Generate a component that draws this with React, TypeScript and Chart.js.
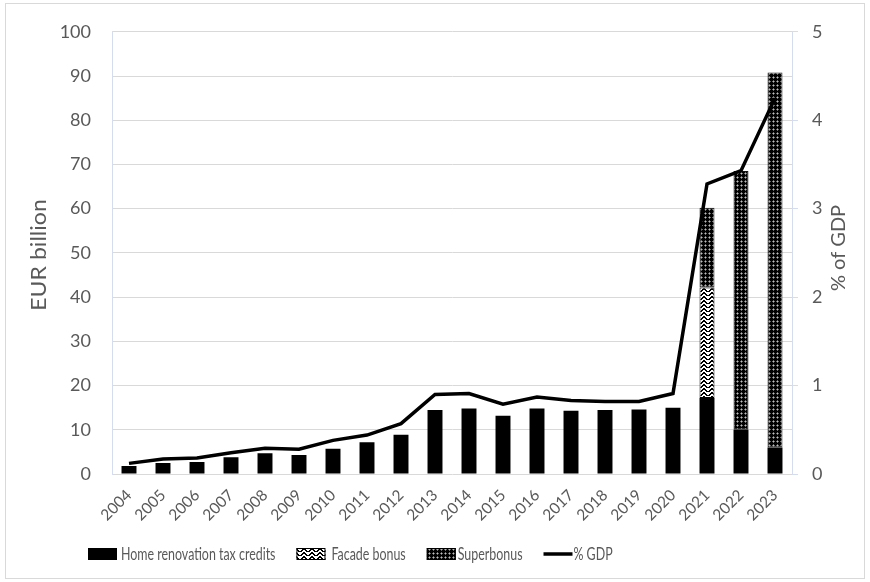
import React, { useEffect, useRef } from "react";
import { Chart, registerables } from "chart.js";

Chart.register(...registerables);

// Years on the category axis
const years = [
  "2004", "2005", "2006", "2007", "2008", "2009", "2010", "2011", "2012", "2013",
  "2014", "2015", "2016", "2017", "2018", "2019", "2020", "2021", "2022", "2023",
];

// EUR billion, stacked bars
const homeRenovation = [
  1.8, 2.5, 2.7, 3.8, 4.7, 4.3, 5.7, 7.2, 8.9, 14.5,
  14.8, 13.2, 14.8, 14.3, 14.5, 14.6, 15.0, 17.2, 10.0, 6.0,
];
const facadeBonus = [
  null, null, null, null, null, null, null, null, null, null,
  null, null, null, null, null, null, null, 25.0, null, null,
];
const superbonus = [
  null, null, null, null, null, null, null, null, null, null,
  null, null, null, null, null, null, null, 18.0, 58.5, 84.8,
];

// Total as % of GDP (right axis)
const gdpShare = [
  0.12, 0.17, 0.18, 0.24, 0.29, 0.28, 0.38, 0.44, 0.57, 0.9,
  0.91, 0.79, 0.87, 0.83, 0.82, 0.82, 0.91, 3.28, 3.43, 4.25,
];

const seriesNames = ["Home renovation tax credits", "Facade bonus", "Superbonus", "% GDP"];
const leftTitle = "EUR billion";
const rightTitle = "% of GDP";

const TEXT = "#595959";
const GRID = "#d9d9d9";
const AXIS = "#d5dcef";
const FONT = "Lato, 'Noto Sans', sans-serif";

function makePattern(rows: string[], fg: string, bg: string, mid = "#9a9a9a") {
  const c = document.createElement("canvas");
  c.width = rows[0].length;
  c.height = rows.length;
  const g = c.getContext("2d")!;
  rows.forEach((r, y) => {
    for (let x = 0; x < r.length; x++) {
      g.fillStyle = r[x] === "1" ? fg : r[x] === "2" ? mid : bg;
      g.fillRect(x, y, 1, 1);
    }
  });
  return g.createPattern(c, "repeat")!;
}

export default function App() {
  const ref = useRef<HTMLCanvasElement>(null);

  useEffect(() => {
    document.body.style.margin = "0";
    const canvas = ref.current!;

    // zig-zag hatch for the facade bonus
    const zigzag = makePattern(
      ["10000001", "11000011", "01100110", "00111100"],
      "#000000",
      "#ffffff"
    );
    // dark dotted grid for the superbonus
    const grid = makePattern(["1211", "2021", "1211", "1111"], "#000000", "#bdbdbd", "#6a6a6a");

    const frame = {
      id: "frame",
      beforeDraw(chart: Chart) {
        const ctx = chart.ctx;
        ctx.save();
        ctx.fillStyle = "#ffffff";
        ctx.fillRect(0, 0, chart.width, chart.height);
        ctx.strokeStyle = GRID;
        ctx.lineWidth = 1;
        ctx.strokeRect(5.5, 3.5, 859, 575);
        ctx.restore();
      },
      afterDraw(chart: Chart) {
        const ctx = chart.ctx;
        ctx.save();
        ctx.fillStyle = TEXT;
        ctx.textBaseline = "middle";
        ctx.textAlign = "center";
        // axis titles, both read bottom to top
        ctx.font = `21px ${FONT}`;
        ctx.save();
        ctx.translate(39, 255);
        ctx.rotate(-Math.PI / 2);
        ctx.scale(1.1, 1);
        ctx.fillText(leftTitle, 0, 0);
        ctx.restore();
        ctx.font = `20px ${FONT}`;
        ctx.save();
        ctx.translate(839, 248);
        ctx.rotate(-Math.PI / 2);
        ctx.fillText(rightTitle, 0, 0);
        ctx.restore();

        // legend, narrow lettering
        ctx.font = `17px ${FONT}`;
        ctx.textAlign = "left";
        const sx = 0.73;
        const y = 554;
        const fills: (string | CanvasPattern)[] = ["#000000", zigzag, grid];
        const textGap = [4, 6, 2, 1];
        let x = 88;
        seriesNames.forEach((name, i) => {
          if (i < 3) {
            ctx.fillStyle = fills[i];
            ctx.fillRect(x, y - 6, 29, 12);
            if (i > 0) {
              ctx.strokeStyle = "#000";
              ctx.lineWidth = 1;
              ctx.strokeRect(x + 0.5, y - 5.5, 28, 11);
            }
          } else {
            ctx.strokeStyle = "#000";
            ctx.lineWidth = 3.5;
            ctx.beginPath();
            ctx.moveTo(x, y);
            ctx.lineTo(x + 29, y);
            ctx.stroke();
          }
          x += 29 + textGap[i];
          ctx.fillStyle = TEXT;
          ctx.save();
          ctx.translate(x, y + 1);
          ctx.scale(sx, 1);
          ctx.fillText(name, 0, 0);
          ctx.restore();
          x += ctx.measureText(name).width * sx + 21;
        });
        ctx.restore();
      },
    };

    const chart = new Chart(canvas, {
      type: "bar",
      data: {
        labels: years,
        datasets: [
          {
            type: "line",
            label: seriesNames[3],
            data: gdpShare,
            yAxisID: "y1",
            borderColor: "#000000",
            borderWidth: 3.5,
            pointRadius: 0,
            tension: 0,
            order: 0,
          },
          {
            label: seriesNames[0],
            data: homeRenovation,
            backgroundColor: "#000000",
            yAxisID: "y",
            order: 1,
          },
          {
            label: seriesNames[1],
            data: facadeBonus,
            backgroundColor: zigzag,
            borderColor: "#000000",
            borderWidth: 1,
            borderSkipped: false,
            yAxisID: "y",
            order: 1,
          },
          {
            label: seriesNames[2],
            data: superbonus,
            backgroundColor: grid,
            borderColor: "#111111",
            borderWidth: 1,
            borderSkipped: false,
            yAxisID: "y",
            order: 1,
          },
        ],
      },
      options: {
        responsive: false,
        animation: false,
        events: [],
        layout: { padding: { top: 27, left: 0, right: 0, bottom: 0 } },
        datasets: { bar: { categoryPercentage: 1, barPercentage: 0.44 } },
        plugins: { legend: { display: false }, tooltip: { enabled: false } },
        scales: {
          x: {
            stacked: true,
            grid: { display: false },
            border: { display: false },
            ticks: {
              minRotation: 45,
              maxRotation: 45,
              color: TEXT,
              font: { family: FONT, size: 15.5 },
              padding: 4,
            },
            afterFit: (s: any) => {
              s.height = 108;
            },
          },
          y: {
            stacked: true,
            position: "left",
            min: 0,
            max: 100,
            ticks: { stepSize: 10, color: TEXT, font: { family: FONT, size: 18 }, padding: 21 },
            grid: { color: GRID, drawTicks: false },
            border: { color: AXIS },
            afterFit: (s: any) => {
              s.width = 112;
            },
          },
          y1: {
            position: "right",
            min: 0,
            max: 5,
            ticks: { stepSize: 1, color: TEXT, font: { family: FONT, size: 18 }, padding: 14 },
            grid: { drawOnChartArea: false, color: AXIS, tickLength: 6 },
            border: { color: AXIS },
            afterFit: (s: any) => {
              s.width = 78;
            },
          },
        },
      },
      plugins: [frame],
    });

    return () => chart.destroy();
  }, []);

  return (
    <div style={{ width: 870, height: 582 }}>
      <canvas ref={ref} width={870} height={582} />
    </div>
  );
}
